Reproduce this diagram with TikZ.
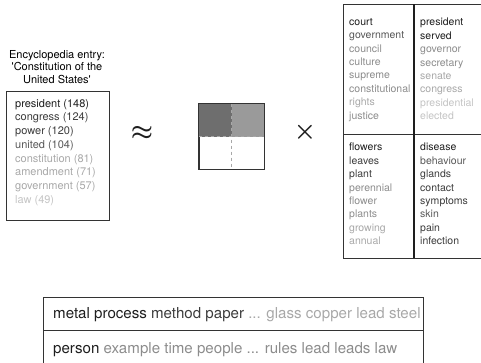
\documentclass[tikz,border=0pt]{standalone}
\usepackage{fontspec}
\setmainfont{TeX Gyre Heros}
\usetikzlibrary{positioning}

\definecolor{ink0}{HTML}{1E1E1E}
\definecolor{ink1}{HTML}{3C3C3C}
\definecolor{ink2}{HTML}{585858}
\definecolor{ink3}{HTML}{8C8C8C}
\definecolor{ink4}{HTML}{A8A8A8}
\definecolor{ink5}{HTML}{C4C4C4}
\definecolor{frame}{HTML}{333333}
\definecolor{darkcell}{HTML}{6E6E6E}
\definecolor{midcell}{HTML}{9A9A9A}

\begin{document}
\begin{tikzpicture}[x=1pt, y=-1pt,
    frameline/.style={draw=frame, line width=0.9pt},
    boxnode/.style={frameline, inner sep=0pt},
    words/.style={anchor=north west, align=left, inner sep=0pt,
                  font=\fontsize{10.5}{13.4}\selectfont},
    entrywords/.style={words, font=\fontsize{11}{13.7}\selectfont},
    rowtext/.style={anchor=base west, inner sep=0pt,
                    font=\fontsize{15.1}{17}\selectfont},
    bigsym/.style={inner sep=0pt, text=ink0}
]
\useasboundingbox (0,0) rectangle (481,362);

% encyclopedia entry with its word counts
\node (title) [align=center, inner sep=0pt, font=\fontsize{11}{12.8}\selectfont]
      at (57,67) {Encyclopedia entry:\\\textquotesingle Constitution of the\\United States\textquotesingle};
\node (entry) [boxnode, minimum width=103pt, minimum height=129pt] at (57.5,155.5) {};
\node (counts) [entrywords] at (15,99) {%
  \textcolor{ink0}{president (148)}\\
  \textcolor{ink1}{congress (124)}\\
  \textcolor{ink1}{power (120)}\\
  \textcolor{ink2}{united (104)}\\
  \textcolor{ink4}{constitution (81)}\\
  \textcolor{ink4}{amendment (71)}\\
  \textcolor{ink4}{government (57)}\\
  \textcolor{ink5}{law (49)}};

\node (approx) [bigsym, font=\boldmath\fontsize{26}{26}\selectfont] at (142,133) {$\approx$};

% topic weights
\node (topics) [boxnode, minimum size=65pt] at (231.5,136.5) {};
\fill [darkcell] (topics.north west) rectangle (topics.center -| topics.north);
\fill [midcell]  (topics.north) rectangle (topics.east);
\draw [ink4, dashed, line width=0.9pt] (topics.west) -- (topics.east);
\draw [ink4, dashed, line width=0.9pt] (topics.north) -- (topics.south);
\draw [frameline] (topics.north west) rectangle (topics.south east);

\node (times) [bigsym, font=\boldmath\fontsize{30}{30}\selectfont] at (305,132) {$\times$};

% topics as word lists
\coordinate (tabtl) at (343,4);
\coordinate (tabbr) at (490,258);
\draw [frameline] (tabtl) rectangle (tabbr);
\draw [frameline] (343,134) -- (490,134);
\draw [draw=ink0, line width=1.6pt] (414,4) -- (414,258);

\node (law) [words] at (349,18) {%
  \textcolor{ink0}{court}\\
  \textcolor{ink2}{government}\\
  \textcolor{ink3}{council}\\
  \textcolor{ink3}{culture}\\
  \textcolor{ink3}{supreme}\\
  \textcolor{ink3}{constitutional}\\
  \textcolor{ink4}{rights}\\
  \textcolor{ink3}{justice}};
\node (politics) [words] at (420,18) {%
  \textcolor{ink0}{president}\\
  \textcolor{ink0}{served}\\
  \textcolor{ink3}{governor}\\
  \textcolor{ink3}{secretary}\\
  \textcolor{ink4}{senate}\\
  \textcolor{ink4}{congress}\\
  \textcolor{ink5}{presidential}\\
  \textcolor{ink5}{elected}};
\node (plants) [words] at (349,143) {%
  \textcolor{ink0}{flowers}\\
  \textcolor{ink1}{leaves}\\
  \textcolor{ink1}{plant}\\
  \textcolor{ink3}{perennial}\\
  \textcolor{ink3}{flower}\\
  \textcolor{ink3}{plants}\\
  \textcolor{ink4}{growing}\\
  \textcolor{ink4}{annual}};
\node (health) [words] at (420,143) {%
  \textcolor{ink0}{disease}\\
  \textcolor{ink2}{behaviour}\\
  \textcolor{ink1}{glands}\\
  \textcolor{ink1}{contact}\\
  \textcolor{ink1}{symptoms}\\
  \textcolor{ink2}{skin}\\
  \textcolor{ink1}{pain}\\
  \textcolor{ink1}{infection}};

% two more topics, in one line each
\coordinate (rowtl) at (43,297);
\draw [frameline] (rowtl) rectangle (423,372);
\draw [frameline] (43,330) -- (423,330);
\node (metals) [rowtext] at (53,318.5) {\textcolor{ink0}{metal process} \textcolor{ink1}{method paper} \textcolor{ink4}{... glass copper lead steel}};
\node (people) [rowtext] at (53,353.5) {\textcolor{ink0}{person} \textcolor{ink3}{example time people ... rules lead leads law}};
\end{tikzpicture}
\end{document}
